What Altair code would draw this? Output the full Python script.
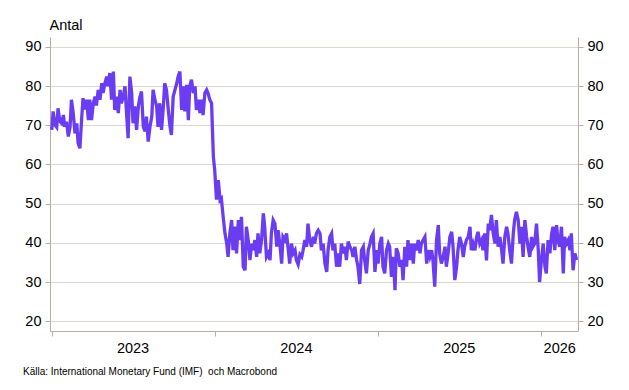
import altair as alt
import pandas as pd

# Series values (roughly every 3.7 days)
values = [
    # 2023 H1-H2
    68.8, 73.5, 70.1, 69.5, 74.3, 71.0, 70.5, 72.6, 69.6, 70.9, 67.1, 69.6, 76.5, 73.1, 67.9, 70.5, 65.4, 64.1, 71.8, 76.9,
    74.0, 76.5, 71.3, 76.5, 71.3, 75.6, 77.3, 75.0, 79.0, 76.5, 80.7, 78.2, 80.7, 82.4, 79.9, 83.3, 76.5, 83.7, 73.9, 77.3,
    73.1, 79.0, 75.6, 77.3, 79.9, 72.2, 66.7, 82.4, 78.2, 70.5, 74.8,
    68.8, 74.8, 77.0, 78.6, 69.6, 68.4, 72.2, 65.8, 69.6, 72.2, 79.0, 76.5, 74.8, 69.6, 75.6, 68.8, 74.8, 80.7, 79.0, 73.9,
    69.6, 67.5, 77.3, 79.0, 80.7, 82.4, 83.7, 73.9, 79.9, 73.5, 80.3, 71.3, 79.9, 81.6, 78.2, 79.9, 73.9, 76.5, 73.1, 76.5,
    72.6, 78.2, 79.0, 78.2, 76.5, 75.6,
    # drop and 2024
    62.0, 58.6, 51.0, 56.0, 50.9, 51.3, 46.6, 42.4, 39.8, 36.4, 42.4, 45.8, 38.1, 44.1, 37.3, 45.8, 40.7, 46.6, 33.9, 33.0,
    44.1, 40.7, 35.6, 39.8, 38.1, 40.7, 36.4, 42.4, 37.3, 40.7, 47.5, 44.1, 36.4, 37.3, 35.6, 42.4, 45.8, 44.9, 39.0, 43.2,
    39.8, 34.7, 41.5, 40.7, 42.4, 38.1, 34.7, 39.8, 37.3, 38.1, 35.6, 34.5,
    37.0, 36.4, 38.1, 40.7, 39.0, 44.9, 40.7, 39.0, 41.5, 39.8, 42.4, 43.2, 42.4, 38.1, 39.8, 34.7, 32.6, 38.1, 41.5, 42.4,
    38.1, 39.8, 33.9, 37.3, 33.9, 39.8, 37.3, 39.0, 35.6, 40.3, 39.0, 38.1, 36.4, 39.0, 35.6, 33.9, 29.5, 38.1, 39.0, 35.6,
    32.2, 38.1, 39.8, 41.5, 42.4, 32.6, 38.1, 34.7, 39.8, 41.5, 33.9, 32.2, 38.1, 39.8, 39.0,
    # 2025
    31.3, 36.4, 27.9, 38.6, 37.3, 33.9, 35.6, 30.5, 39.0, 33.9, 40.7, 35.6, 39.8, 34.7, 39.8, 38.1, 40.7, 37.3, 39.8, 40.7,
    41.5, 34.7, 38.1, 36.4, 38.1, 35.6, 28.8, 40.7, 44.5, 37.3, 34.7, 36.4, 39.0, 33.9, 37.3, 41.5, 42.8, 39.0, 30.5, 33.9,
    38.1, 41.5, 39.8, 36.4, 39.0, 40.7, 41.5, 44.1, 38.1, 39.8, 38.1, 41.5, 42.8, 39.8, 40.7, 38.1, 42.4, 35.5, 44.9,
    43.2, 47.1, 42.4, 39.8, 45.8, 39.0, 41.5, 38.1, 34.7, 41.5, 44.1, 42.4, 38.1, 34.7, 42.4, 45.8, 47.9, 45.8, 39.8, 44.1,
    36.4, 45.8, 41.5, 39.0, 36.4, 41.5, 39.0, 39.8, 44.9, 38.1, 30.0, 35.6, 39.8, 33.9, 32.2, 40.7, 37.3, 42.4, 44.1, 38.1,
    44.5, 40.7, 39.0, 44.1, 32.2, 41.5, 39.8, 40.7, 38.1, 42.4, 33.0, 37.3, 35.6,
]
start_date = "2022-12-31"
end_date = "2026-03-21"

year_labels = ["2023", "2024", "2025", "2026"]
year_label_dates = ["2023-07-01", "2024-07-01", "2025-07-01", "2026-02-11"]
y_ticks = [20, 30, 40, 50, 60, 70, 80, 90]
y_title = "Antal"
source_text = "Källa: International Monetary Fund (IMF)\u00a0 och Macrobond"

dates = pd.date_range(start_date, end_date, periods=len(values)).strftime("%Y-%m-%d")
df = pd.DataFrame({"date": list(dates), "value": values})
years_df = pd.DataFrame({"date": year_label_dates, "label": year_labels})
src_df = pd.DataFrame({"t": [source_text]})

FONT = "Liberation Sans"
LINE = "#6b3df2"
GRID = "#dcd7cf"
AX = "#b5aea3"
W, H = 528, 294

x_enc = alt.X(
    "date:T",
    scale=alt.Scale(
        type="utc",
        domain=[alt.DateTime(year=2022, month=12, date=27, utc=True),
                alt.DateTime(year=2026, month=3, date=24, utc=True)],
    ),
    axis=alt.Axis(
        values=[alt.DateTime(year=y, month=1, date=1, utc=True) for y in (2023, 2024, 2025, 2026)],
        labels=False, grid=False, title=None, tickSize=5, tickColor=AX,
        domainColor=AX, domainWidth=1,
    ),
)
y_scale = alt.Scale(domain=[17.5, 92.5], nice=False, zero=False)

left = alt.Chart(df).mark_line(color=LINE, strokeWidth=3.3, strokeJoin="miter").encode(
    x=x_enc,
    y=alt.Y("value:Q", scale=y_scale, axis=alt.Axis(
        orient="left", values=y_ticks, grid=True, gridColor=GRID, gridWidth=1,
        tickSize=5, tickColor=AX, domainColor=AX, labelPadding=4,
        labelFont=FONT, labelFontSize=14.5, labelColor="#000",
        title=y_title, titleAngle=0, titleAlign="left", titleBaseline="alphabetic",
        titleX=-1, titleY=-8, titleFont=FONT, titleFontSize=14.5,
        titleFontWeight="normal", titleColor="#000",
    )),
)
right = alt.Chart(df).mark_line(opacity=0).encode(
    x=x_enc,
    y=alt.Y("value:Q", scale=y_scale, axis=alt.Axis(
        orient="right", values=y_ticks, grid=False,
        tickSize=5, tickColor=AX, domainColor=AX, labelPadding=4,
        labelFont=FONT, labelFontSize=14.5, labelColor="#000", title=None,
    )),
)
years = alt.Chart(years_df).mark_text(
    font=FONT, fontSize=14.5, align="center", baseline="alphabetic", color="#000"
).encode(x=x_enc, y=alt.value(H + 22), text="label:N")
src = alt.Chart(src_df).mark_text(
    font=FONT, fontSize=10, align="left", baseline="alphabetic", color="#000"
).encode(x=alt.value(-27), y=alt.value(H + 44), text="t:N")

chart = alt.layer(left, right, years, src).resolve_axis(y="independent").properties(
    width=W, height=H,
    autosize=alt.AutoSizeParams(type="none"),
    padding={"left": 42, "top": 29, "right": 43, "bottom": 51},
).configure_view(stroke=None)

chart.save("out.html", embed_options={"renderer": "svg", "actions": False})
